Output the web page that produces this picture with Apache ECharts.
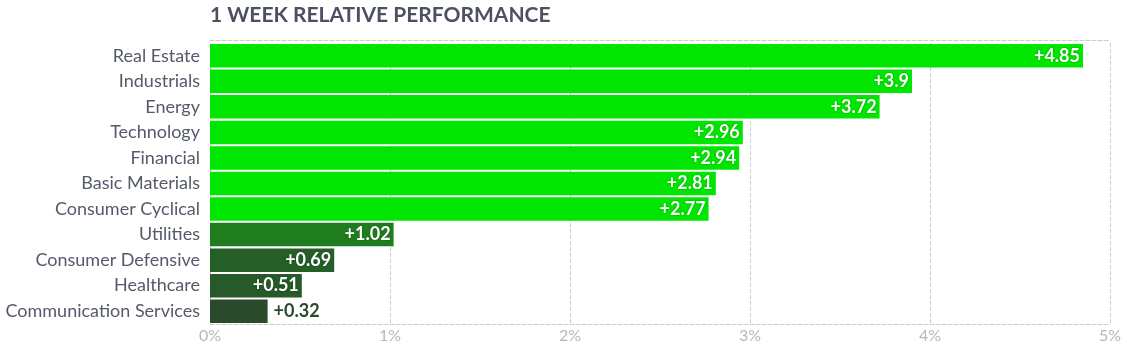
<!DOCTYPE html>
<html>
<head>
<meta charset="utf-8">
<script src="https://cdn.jsdelivr.net/npm/echarts@6/dist/echarts.min.js"></script>
<style>
  html, body { margin: 0; padding: 0; background: #fff; }
  #chart { width: 1127px; height: 352px; }
</style>
</head>
<body>
<div id="chart"></div>
<script>
// sectors, top to bottom
const sectors = ['Real Estate', 'Industrials', 'Energy', 'Technology', 'Financial', 'Basic Materials',
  'Consumer Cyclical', 'Utilities', 'Consumer Defensive', 'Healthcare', 'Communication Services']
const changes = [4.85, 3.9, 3.72, 2.96, 2.94, 2.81, 2.77, 1.02, 0.69, 0.51, 0.32]
const barColors = ['#00e600', '#00e600', '#00e600', '#00e600', '#00e600', '#00e600', '#00e600',
  '#1f7d20', '#255f27', '#265a28', '#2b4a2c']
const xTicks = [0, 1, 2, 3, 4, 5]

const chart = echarts.init(document.getElementById('chart'))

const fontFamily = 'Lato, "Noto Sans", sans-serif'

chart.setOption({
  animation: false,
  title: {
    text: '1 WEEK RELATIVE PERFORMANCE',
    left: 205,
    top: 0,
    textStyle: { fontFamily, fontSize: 21, fontWeight: 'bold', color: '#4c5162' }
  },
  grid: { left: 210, right: 17, top: 43, bottom: 28 },
  xAxis: [{
    type: 'value',
    min: xTicks[0],
    max: xTicks[xTicks.length - 1],
    interval: 1,
    axisLine: { show: true, lineStyle: { color: '#cccccc', type: 'dashed' } },
    axisTick: { show: false },
    axisLabel: { formatter: '{value}%', color: '#b8b8b8', fontFamily, fontSize: 16, margin: 4 },
    splitLine: { show: true, lineStyle: { color: '#cccccc', type: 'dashed' } }
  }, {
    type: 'value',
    position: 'top',
    offset: 3,
    min: 0,
    max: 5,
    axisLine: { show: true, lineStyle: { color: '#cccccc', type: 'dashed' } },
    axisTick: { show: false },
    axisLabel: { show: false },
    splitLine: { show: false }
  }],
  yAxis: {
    type: 'category',
    inverse: true,
    data: sectors,
    axisLine: { show: false },
    axisTick: { show: false },
    axisLabel: { color: '#555a6b', fontFamily, fontSize: 18, margin: 10 }
  },
  series: [{
    type: 'bar',
    barCategoryGap: '8%',
    data: changes.map((v, i) => {
      const inside = v > 0.4
      return {
        value: v,
        itemStyle: { color: barColors[i] },
        label: inside
          ? { position: 'insideRight', color: '#fff', distance: 3, textShadowColor: 'rgba(0,0,0,0.35)', textShadowBlur: 2 }
          : { position: 'right', color: barColors[i], distance: 6 }
      }
    }),
    label: {
      show: true,
      fontFamily,
      fontSize: 18,
      fontWeight: 'bold',
      formatter: p => '+' + p.value
    }
  }]
})
</script>
</body>
</html>
